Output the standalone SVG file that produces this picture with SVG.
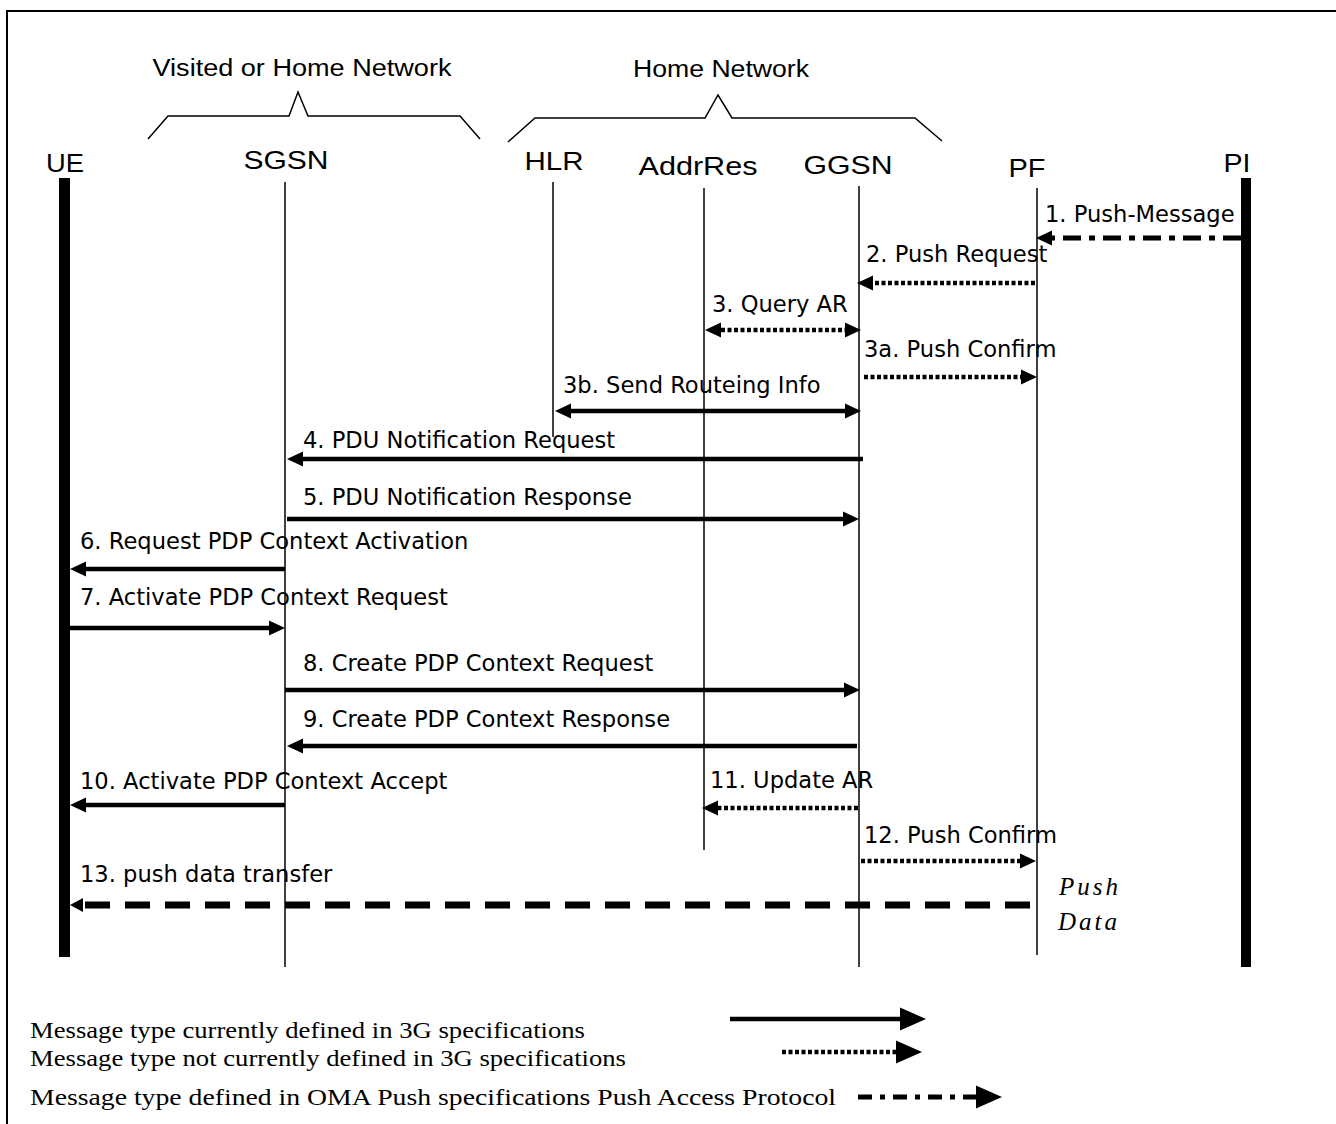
<svg xmlns="http://www.w3.org/2000/svg" width="1336" height="1124" viewBox="0 0 1336 1124">
<style>
.hdr{font-family:"Liberation Sans",Arial,sans-serif;font-size:25px;fill:#000;text-anchor:middle}
.net{font-family:"Liberation Sans",Arial,sans-serif;font-size:23px;fill:#000;text-anchor:middle}
.msg{font-family:"DejaVu Sans","Noto Sans",sans-serif;font-size:22.6px;fill:#000}
.leg{font-family:"Liberation Serif","Times New Roman",serif;font-size:23.5px;fill:#000}
.pd{font-family:"Liberation Serif","Times New Roman",serif;font-size:25px;font-style:italic;letter-spacing:3px;fill:#000}
.life{stroke:#000;stroke-width:1.5;fill:none}
.bar{fill:#000}
.brace{stroke:#000;stroke-width:1.5;fill:none}
.solid{stroke:#000;stroke-width:4.5;fill:none}
.dot{stroke:#000;stroke-width:4.5;fill:none;stroke-dasharray:4 2.5}
.dashdot{stroke:#000;stroke-width:5;fill:none;stroke-dasharray:18 8 6 8}
.dash{stroke:#000;stroke-width:7;fill:none;stroke-dasharray:25 15}
</style>
<defs>
<marker id="ah" markerUnits="userSpaceOnUse" markerWidth="18" markerHeight="18" viewBox="0 -9 18 18" refX="0" refY="0" orient="auto-start-reverse"><path d="M0,-7.5 L16,0 L0,7.5 z" fill="#000"/></marker>
<marker id="ahs" markerUnits="userSpaceOnUse" markerWidth="16" markerHeight="16" viewBox="0 -8 16 16" refX="0" refY="0" orient="auto-start-reverse"><path d="M0,-7 L13,0 L0,7 z" fill="#000"/></marker>
<marker id="ahl" markerUnits="userSpaceOnUse" markerWidth="30" markerHeight="30" viewBox="0 -15 30 30" refX="0" refY="0" orient="auto"><path d="M0,-11.5 L26,0 L0,11.5 z" fill="#000"/></marker>
</defs>
<rect width="1336" height="1124" fill="#fff"/>
<path d="M7,1124 V11 H1336" stroke="#000" stroke-width="2" fill="none"/>

<g id="net-visited">
<text class="net" x="302" y="76" textLength="299" lengthAdjust="spacingAndGlyphs">Visited or Home Network</text>
<path class="brace" d="M148,139 L168,116 L289,116 L298,92 L308,116 L460,116 L480,139"/>
</g>
<g id="net-home">
<text class="net" x="721" y="77" textLength="176" lengthAdjust="spacingAndGlyphs">Home Network</text>
<path class="brace" d="M508,142 L535,118 L705,118 L718,95 L732,118 L915,118 L942,141"/>
</g>

<g id="UE">
<text class="hdr" x="65" y="172" textLength="38" lengthAdjust="spacingAndGlyphs">UE</text>
<rect class="bar" x="59" y="178" width="11" height="779"/>
</g>
<g id="SGSN">
<text class="hdr" x="286" y="169" textLength="85" lengthAdjust="spacingAndGlyphs">SGSN</text>
<line class="life" x1="285" y1="182" x2="285" y2="967"/>
</g>
<g id="HLR">
<text class="hdr" x="554" y="170" textLength="59" lengthAdjust="spacingAndGlyphs">HLR</text>
<line class="life" x1="553" y1="182" x2="553" y2="437"/>
</g>
<g id="AddrRes">
<text class="hdr" x="698" y="175" textLength="119" lengthAdjust="spacingAndGlyphs">AddrRes</text>
<line class="life" x1="704" y1="188" x2="704" y2="850"/>
</g>
<g id="GGSN">
<text class="hdr" x="848" y="174" textLength="89" lengthAdjust="spacingAndGlyphs">GGSN</text>
<line class="life" x1="859" y1="186" x2="859" y2="967"/>
</g>
<g id="PF">
<text class="hdr" x="1027" y="177" textLength="37" lengthAdjust="spacingAndGlyphs">PF</text>
<line class="life" x1="1037" y1="188" x2="1037" y2="955"/>
</g>
<g id="PI">
<text class="hdr" x="1237" y="172" textLength="27" lengthAdjust="spacingAndGlyphs">PI</text>
<rect class="bar" x="1241" y="178" width="10" height="789"/>
</g>

<g id="connectors">
<line class="dashdot" x1="1241" y1="238" x2="1052" y2="238" marker-end="url(#ah)"/>
<text class="msg" x="1045" y="222">1. Push-Message</text>

<line class="dot" x1="1035" y1="283" x2="873" y2="283" marker-end="url(#ah)"/>
<text class="msg" x="866" y="262">2. Push Request</text>

<line class="dot" x1="721" y1="330" x2="845" y2="330" marker-start="url(#ah)" marker-end="url(#ah)"/>
<text class="msg" x="712" y="312">3. Query AR</text>

<line class="dot" x1="864" y1="377" x2="1021" y2="377" marker-end="url(#ah)"/>
<text class="msg" x="864" y="357">3a. Push Confirm</text>

<line class="solid" x1="571" y1="411" x2="845" y2="411" marker-start="url(#ah)" marker-end="url(#ah)"/>
<text class="msg" x="563" y="393">3b. Send Routeing Info</text>

<line class="solid" x1="863" y1="459" x2="303" y2="459" marker-end="url(#ah)"/>
<text class="msg" x="303" y="448">4. PDU Notification Request</text>

<line class="solid" x1="287" y1="519" x2="843" y2="519" marker-end="url(#ah)"/>
<text class="msg" x="303" y="505">5. PDU Notification Response</text>

<line class="solid" x1="285" y1="569" x2="86" y2="569" marker-end="url(#ah)"/>
<text class="msg" x="80" y="549">6. Request PDP Context Activation</text>

<line class="solid" x1="70" y1="628" x2="269" y2="628" marker-end="url(#ah)"/>
<text class="msg" x="80" y="605">7. Activate PDP Context Request</text>

<line class="solid" x1="285" y1="690" x2="844" y2="690" marker-end="url(#ah)"/>
<text class="msg" x="303" y="671">8. Create PDP Context Request</text>

<line class="solid" x1="857" y1="746" x2="303" y2="746" marker-end="url(#ah)"/>
<text class="msg" x="303" y="727">9. Create PDP Context Response</text>

<line class="solid" x1="285" y1="805" x2="86" y2="805" marker-end="url(#ah)"/>
<text class="msg" x="80" y="789">10. Activate PDP Context Accept</text>

<line class="dot" x1="858" y1="808" x2="718" y2="808" marker-end="url(#ah)"/>
<text class="msg" x="710" y="788">11. Update AR</text>

<line class="dot" x1="861" y1="861" x2="1020" y2="861" marker-end="url(#ah)"/>
<text class="msg" x="864" y="843">12. Push Confirm</text>

<line class="dash" x1="1030" y1="905" x2="83" y2="905" marker-end="url(#ahs)"/>
<text class="msg" x="80" y="882">13. push data transfer</text>
</g>

<text class="pd" x="1059" y="895">Push</text>
<text class="pd" x="1058" y="930">Data</text>

<g id="legend">
<text class="leg" x="30" y="1038" textLength="555" lengthAdjust="spacingAndGlyphs">Message type currently defined in 3G specifications</text>
<text class="leg" x="30" y="1066" textLength="596" lengthAdjust="spacingAndGlyphs">Message type not currently defined in 3G specifications</text>
<text class="leg" x="30" y="1105" textLength="806" lengthAdjust="spacingAndGlyphs">Message type defined in OMA Push specifications Push Access Protocol</text>
<line class="solid" x1="730" y1="1019" x2="900" y2="1019" marker-end="url(#ahl)"/>
<line class="dot" x1="782" y1="1052" x2="896" y2="1052" marker-end="url(#ahl)"/>
<line class="dashdot" x1="858" y1="1097" x2="976" y2="1097" style="stroke-dasharray:14 8 5 8" marker-end="url(#ahl)"/>
</g>
</svg>
